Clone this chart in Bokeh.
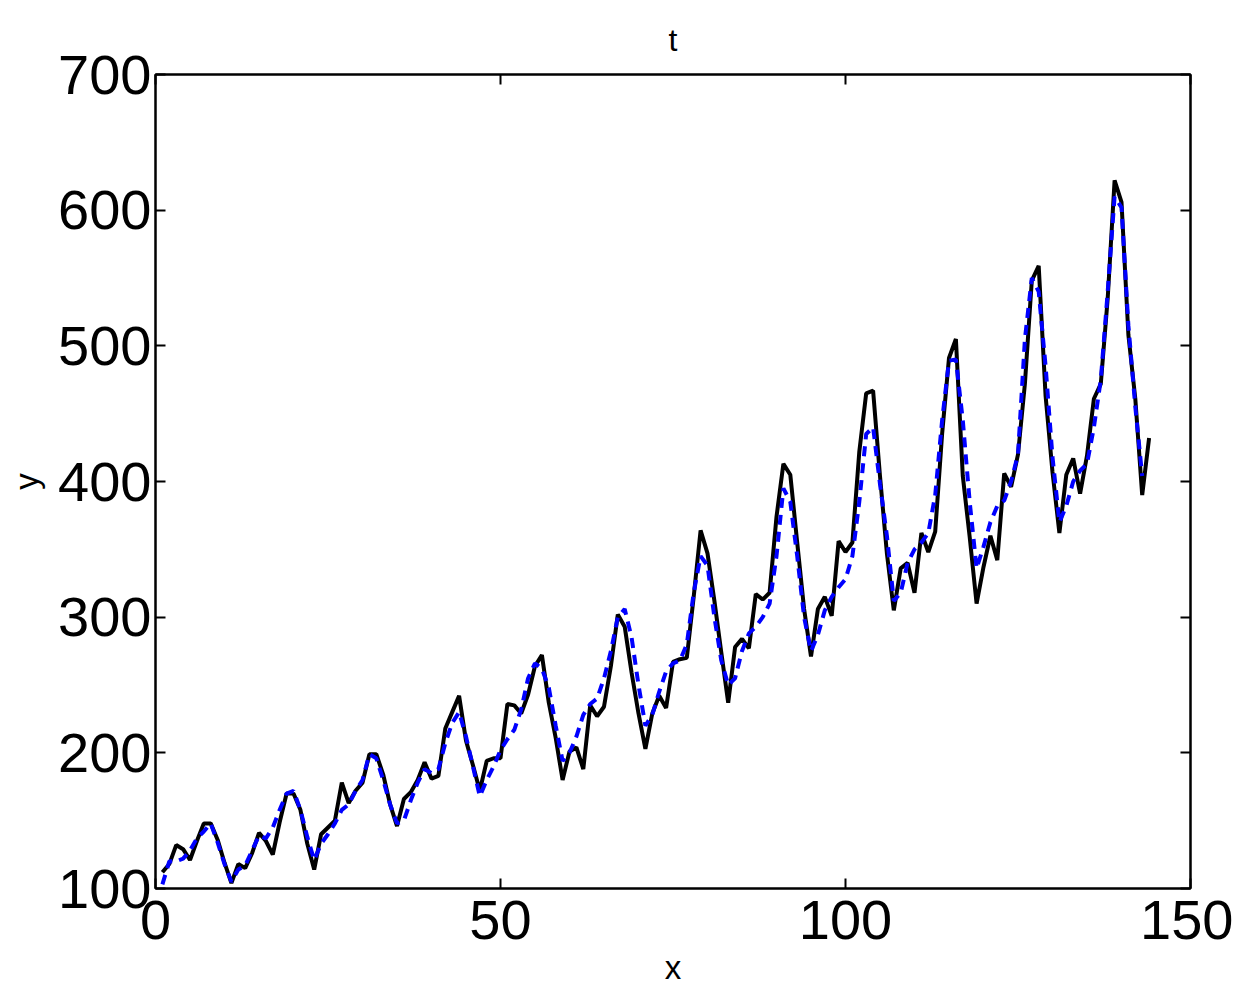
from bokeh.plotting import figure
from bokeh.models import Range1d, LinearAxis, FixedTicker
from bokeh.embed import file_html
from bokeh.resources import INLINE

actual = [112, 118, 132, 129, 121, 135, 148, 148, 136, 119, 104, 118,
          115, 126, 141, 135, 125, 149, 170, 170, 158, 133, 114, 140,
          145, 150, 178, 163, 172, 178, 199, 199, 184, 162, 146, 166,
          171, 180, 193, 181, 183, 218, 230, 242, 209, 191, 172, 194,
          196, 196, 236, 235, 229, 243, 264, 272, 237, 211, 180, 201,
          204, 188, 235, 227, 234, 264, 302, 293, 259, 229, 203, 229,
          242, 233, 267, 269, 270, 315, 364, 347, 312, 274, 237, 278,
          284, 277, 317, 313, 318, 374, 413, 405, 355, 306, 271, 306,
          315, 301, 356, 348, 355, 422, 465, 467, 404, 347, 305, 336,
          340, 318, 362, 348, 363, 435, 491, 505, 404, 359, 310, 337,
          360, 342, 406, 396, 420, 472, 548, 559, 463, 407, 362, 405,
          417, 391, 419, 461, 472, 535, 622, 606, 508, 461, 390, 432]

fitted = [103, 120, 120, 122, 128, 137, 142, 148, 134, 118, 105, 114,
          117, 128, 139, 137, 145, 158, 170, 172, 158, 138, 121, 133,
          140, 148, 158, 162, 172, 180, 199, 196, 180, 162, 148, 150,
          165, 178, 188, 185, 188, 207, 222, 230, 212, 190, 168, 180,
          190, 202, 210, 217, 232, 255, 266, 262, 248, 220, 194, 200,
          212, 228, 236, 240, 255, 275, 300, 306, 285, 250, 220, 228,
          245, 260, 266, 268, 280, 318, 345, 338, 300, 268, 250, 255,
          275, 288, 293, 300, 310, 345, 395, 385, 345, 300, 275, 287,
          305, 315, 322, 328, 345, 385, 435, 440, 398, 360, 312, 318,
          340, 350, 355, 362, 390, 445, 489, 490, 445, 385, 336, 352,
          370, 382, 386, 400, 420, 505, 550, 540, 485, 418, 370, 382,
          400, 408, 413, 440, 475, 540, 610, 602, 515, 455, 404]

x_actual = list(range(1, len(actual) + 1))
x_fitted = list(range(1, len(fitted) + 1))

x_ticks = [0, 50, 100, 150]
y_ticks = [100, 200, 300, 400, 500, 600, 700]
title_text = "t"

FONT = "Liberation Sans"

p = figure(width=1233, height=989, output_backend="svg", toolbar_location=None,
           x_range=Range1d(0, 150), y_range=Range1d(100, 700),
           frame_width=1035, frame_height=814,
           min_border_left=155, min_border_right=43, min_border_top=74, min_border_bottom=101,
           title=title_text)
p.title.align = "center"
p.title.text_font = FONT
p.title.text_font_size = "32px"
p.title.text_font_style = "normal"
p.title.text_color = "black"
p.title.standoff = 34

p.grid.visible = False
p.background_fill_color = "white"
p.outline_line_color = "black"
p.outline_line_width = 2

for ax in [p.xaxis[0], p.yaxis[0]]:
    ax.major_tick_in = 10
    ax.major_tick_out = 0
    ax.minor_tick_line_color = None
    ax.axis_line_width = 2
    ax.major_tick_line_width = 2
    ax.major_label_text_font = FONT
    ax.major_label_text_font_size = "56px"
    ax.major_label_text_color = "black"
    ax.axis_label_text_font = FONT
    ax.axis_label_text_font_size = "33px"
    ax.axis_label_text_font_style = "normal"
    ax.axis_label_text_color = "black"

p.xaxis[0].ticker = FixedTicker(ticks=x_ticks)
p.yaxis[0].ticker = FixedTicker(ticks=y_ticks)
p.xaxis[0].axis_label = "x"
p.yaxis[0].axis_label = "y"
p.xaxis[0].major_label_standoff = 12
p.yaxis[0].major_label_standoff = 4
p.xaxis[0].axis_label_standoff = 7
p.yaxis[0].axis_label_standoff = 10

top = LinearAxis(ticker=FixedTicker(ticks=x_ticks),
                 major_label_overrides={t: "" for t in x_ticks},
                 major_label_standoff=0,
                 major_tick_in=10, major_tick_out=0, minor_tick_line_color=None,
                 axis_line_width=2, major_tick_line_width=2)
right = LinearAxis(ticker=FixedTicker(ticks=y_ticks),
                   major_label_overrides={t: "" for t in y_ticks},
                   major_tick_in=10, major_tick_out=0, minor_tick_line_color=None,
                   axis_line_width=2, major_tick_line_width=2)
p.add_layout(top, "above")
p.add_layout(right, "right")

p.line(x_actual, actual, line_color="black", line_width=4)
p.line(x_fitted, fitted, line_color="#0000ff", line_width=4, line_dash="10 7")

open("out.html", "w").write(file_html(p, INLINE))
